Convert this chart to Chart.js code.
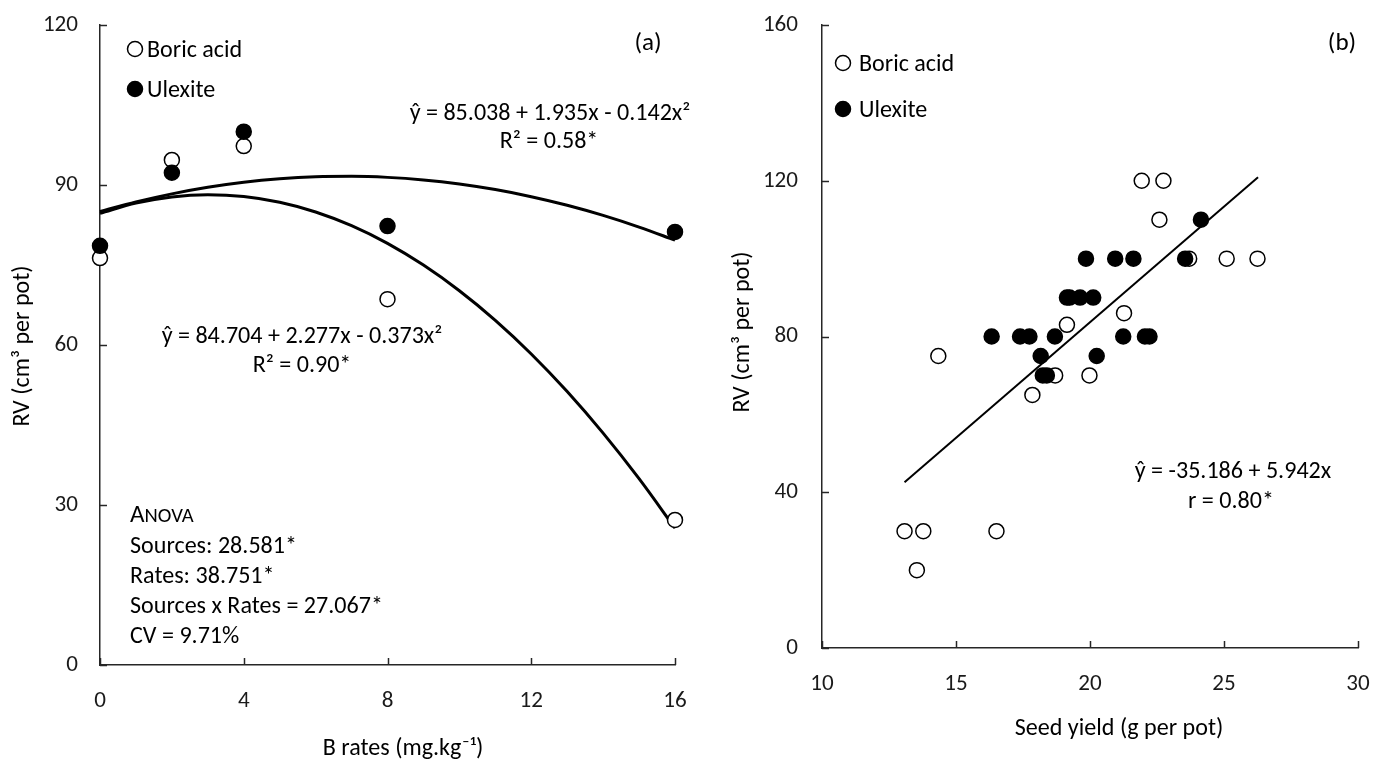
<!DOCTYPE html>
<html>
<head>
<meta charset="utf-8">
<script src="https://cdn.jsdelivr.net/npm/chart.js@4.4.1/dist/chart.umd.min.js"></script>
<style>
  html, body { margin:0; padding:0; background:#fff; width:1373px; height:760px; overflow:hidden; }
  #wa { position:absolute; left:0; top:0; width:700px; height:760px; }
  #wb { position:absolute; left:700px; top:0; width:673px; height:760px; }
  canvas { display:block; }
</style>
</head>
<body>
<div id="wa"><canvas id="ca" width="700" height="760" style="width:700px;height:760px"></canvas></div>
<div id="wb"><canvas id="cb" width="673" height="760" style="width:673px;height:760px"></canvas></div>
<script>
// ---------------- Panel (a): RV vs B rates ----------------
const ratesA      = [0, 2, 4, 8, 16];
const boricRV_A   = [76.3, 94.7, 97.3, 68.6, 27.2];
const ulexRV_A    = [78.6, 92.3, 100.0, 82.3, 81.2];
// fitted curves read along x = 0..16
const curveX_A    = [0, 1, 2, 3, 4, 5, 6, 7, 8, 9, 10, 11, 12, 13, 14, 15, 16];
const ulexCurve_A = [85.04, 86.83, 88.34, 89.57, 90.51, 91.16, 91.54, 91.63, 91.43, 90.95, 90.19, 89.14, 87.81, 86.20, 84.30, 82.11, 79.65];
const boricCurve_A= [84.70, 86.61, 87.77, 88.18, 87.84, 86.76, 84.94, 82.37, 79.05, 74.98, 70.17, 64.62, 58.32, 51.27, 43.47, 34.93, 25.65];
const ticksX_A    = [0, 4, 8, 12, 16];
const ticksY_A    = [0, 30, 60, 90, 120];

// ---------------- Panel (b): RV vs seed yield ----------------
const boricYield_B = [21.93, 22.74, 22.59, 25.10, 26.25, 23.70, 21.27, 19.14, 14.34, 18.70, 19.98, 17.85, 13.08, 13.78, 13.54, 16.51];
const boricRV_B    = [120, 120, 110, 100, 100, 100, 86, 83, 75, 70, 70, 65, 30, 30, 20, 30];
const ulexYield_B  = [24.14, 19.85, 20.94, 21.62, 23.55, 19.14, 19.24, 19.63, 20.12, 16.33, 17.39, 17.74, 18.69, 21.24, 22.05, 22.22, 18.16, 20.25, 18.24, 18.39];
const ulexRV_B     = [110, 100, 100, 100, 100, 90, 90, 90, 90, 80, 80, 80, 80, 80, 80, 80, 75, 75, 70, 70];
const fitX_B       = [13.08, 26.27];
const fitY_B       = [42.54, 120.9];
const ticksX_B     = [10, 15, 20, 25, 30];
const ticksY_B     = [0, 40, 80, 120, 160];

// ---------------- fonts ----------------
function fontExists(name) {
  const c = document.createElement('canvas').getContext('2d');
  const s = 'abcdefghijklmnopqrstuvwxyzMW0123456789';
  let diff = false;
  ['monospace', 'serif'].forEach(fb => {
    c.font = '40px ' + fb; const a = c.measureText(s).width;
    c.font = '40px "' + name + '", ' + fb; const b = c.measureText(s).width;
    if (Math.abs(a - b) > 0.5) diff = true;
  });
  return diff;
}
const FAM = ['Carlito', 'Open Sans', 'Lato', 'Liberation Sans'].find(fontExists) || 'sans-serif';
const FAMQ = '"' + FAM + '", sans-serif';
const mctx = document.createElement('canvas').getContext('2d');
mctx.font = '100px ' + FAMQ;
const EMW = mctx.measureText('Sources x Rates = 27.067*').width / 100;
function cal(px) { return +(px * 10.54 / EMW).toFixed(2); } // size matching Calibri widths

const INK = '#000';
const AXIS = '#262626';

function pts(xs, ys) { return xs.map((x, i) => ({ x: x, y: ys[i] })); }

function inTicks(len) {
  return {
    id: 'inTicks',
    afterDatasetsDraw(chart) {
      const ctx = chart.ctx, xs = chart.scales.x, ys = chart.scales.y;
      ctx.save();
      ctx.strokeStyle = AXIS; ctx.lineWidth = 1.5;
      xs.ticks.forEach(t => {
        const px = Math.round(xs.getPixelForValue(t.value)) + 0.5;
        ctx.beginPath(); ctx.moveTo(px, ys.bottom); ctx.lineTo(px, ys.bottom - len); ctx.stroke();
      });
      ys.ticks.forEach(t => {
        const py = Math.round(ys.getPixelForValue(t.value)) + 0.5;
        ctx.beginPath(); ctx.moveTo(xs.left, py); ctx.lineTo(xs.left + len, py); ctx.stroke();
      });
      ctx.restore();
    }
  };
}

function textPlugin(items) {
  return {
    id: 'txt',
    afterDraw(chart) {
      const ctx = chart.ctx;
      ctx.save();
      ctx.fillStyle = INK;
      items.forEach(it => {
        if (it.circle) {
          ctx.beginPath();
          ctx.arc(it.x, it.y, it.r, 0, Math.PI * 2);
          ctx.fillStyle = it.fill; ctx.fill();
          ctx.lineWidth = 1.5; ctx.strokeStyle = '#000'; ctx.stroke();
          ctx.fillStyle = INK;
          return;
        }
        ctx.save();
        ctx.translate(it.x, it.y);
        if (it.rot) ctx.rotate(-Math.PI / 2);
        ctx.textBaseline = 'alphabetic';
        if (it.parts) {
          let x = 0;
          ctx.textAlign = 'left';
          it.parts.forEach(p => {
            ctx.font = cal(p.size) + 'px ' + FAMQ;
            ctx.fillText(p.t, x, 0);
            x += ctx.measureText(p.t).width;
          });
        } else {
          ctx.font = cal(it.size) + 'px ' + FAMQ;
          ctx.textAlign = it.align || 'left';
          ctx.fillText(it.t, 0, 0);
        }
        ctx.restore();
      });
      ctx.restore();
    }
  };
}

function noOverflow(s) { s.paddingLeft = 0; s.paddingRight = 0; s.paddingTop = 0; s.paddingBottom = 0; }

function axisX(min, max, tickList, height, pad) {
  return {
    type: 'linear', min: min, max: max,
    afterBuildTicks: s => { s.ticks = tickList.map(v => ({ value: v })); },
    afterFit: s => { s.height = height; noOverflow(s); },
    grid: { display: false, drawTicks: false },
    border: { display: true, color: AXIS, width: 1.5 },
    ticks: { color: '#1a1a1a', padding: pad, font: { family: FAMQ, size: cal(23) }, maxRotation: 0 }
  };
}
function axisY(min, max, tickList, width, pad) {
  return {
    type: 'linear', min: min, max: max,
    afterBuildTicks: s => { s.ticks = tickList.map(v => ({ value: v })); },
    afterFit: s => { s.width = width; noOverflow(s); },
    grid: { display: false, drawTicks: false },
    border: { display: true, color: AXIS, width: 1.5 },
    ticks: { color: '#1a1a1a', padding: pad, font: { family: FAMQ, size: cal(23) } }
  };
}

const commonOpts = {
  responsive: false,
  animation: false,
  events: [],
  plugins: { legend: { display: false }, tooltip: { enabled: false } }
};

// ---------------- Chart (a) ----------------
new Chart(document.getElementById('ca'), {
  type: 'scatter',
  data: {
    datasets: [
      { label: 'Ulexite', data: pts(ratesA, ulexRV_A), pointRadius: 7.5, pointBackgroundColor: '#000',
        pointBorderColor: '#000', pointBorderWidth: 1.5, showLine: false, clip: false },
      { label: 'Boric acid', data: pts(ratesA, boricRV_A), pointRadius: 7.5, pointBackgroundColor: '#fff',
        pointBorderColor: '#000', pointBorderWidth: 1.5, showLine: false, clip: false },
      { label: 'Ulexite fit', data: pts(curveX_A, ulexCurve_A), showLine: true, pointRadius: 0,
        borderColor: '#000', borderWidth: 3, cubicInterpolationMode: 'monotone', clip: false },
      { label: 'Boric acid fit', data: pts(curveX_A, boricCurve_A), showLine: true, pointRadius: 0,
        borderColor: '#000', borderWidth: 3, cubicInterpolationMode: 'monotone', clip: false }
    ]
  },
  options: Object.assign({}, commonOpts, {
    layout: { padding: { left: 0, top: 25, right: 25, bottom: 0 } },
    scales: { x: axisX(0, 16, ticksX_A, 95, 22), y: axisY(0, 120, ticksY_A, 100, 22) }
  }),
  plugins: [inTicks(7), textPlugin([
    { t: '(a)', x: 648, y: 50, size: 25, align: 'center' },
    { circle: true, x: 135, y: 49, r: 7.5, fill: '#fff' },
    { t: 'Boric acid', x: 147, y: 57, size: 24 },
    { circle: true, x: 135, y: 89, r: 7.5, fill: '#000' },
    { t: 'Ulexite', x: 147, y: 97, size: 24 },
    { t: 'ŷ = 85.038 + 1.935x - 0.142x²', x: 550, y: 120, size: 24, align: 'center' },
    { t: 'R² = 0.58*', x: 549, y: 148, size: 24, align: 'center' },
    { t: 'ŷ = 84.704 + 2.277x - 0.373x²', x: 302, y: 343, size: 24, align: 'center' },
    { t: 'R² = 0.90*', x: 302, y: 372, size: 24, align: 'center' },
    { parts: [{ t: 'A', size: 25 }, { t: 'NOVA', size: 20.5 }], x: 130, y: 522 },
    { t: 'Sources: 28.581*', x: 130, y: 553, size: 24 },
    { t: 'Rates: 38.751*', x: 130, y: 583, size: 24 },
    { t: 'Sources x Rates = 27.067*', x: 130, y: 613, size: 24 },
    { t: 'CV = 9.71%', x: 130, y: 643, size: 24 },
    { t: 'B rates (mg.kg⁻¹)', x: 403, y: 755, size: 24, align: 'center' },
    { t: 'RV (cm³ per pot)', x: 29, y: 346, size: 24, align: 'center', rot: true }
  ])]
});

// ---------------- Chart (b) ----------------
new Chart(document.getElementById('cb'), {
  type: 'scatter',
  data: {
    datasets: [
      { label: 'Ulexite', data: pts(ulexYield_B, ulexRV_B), pointRadius: 7.5, pointBackgroundColor: '#000',
        pointBorderColor: '#000', pointBorderWidth: 1.5, showLine: false, clip: false },
      { label: 'Boric acid', data: pts(boricYield_B, boricRV_B), pointRadius: 7.5, pointBackgroundColor: '#fff',
        pointBorderColor: '#000', pointBorderWidth: 1.5, showLine: false, clip: false },
      { label: 'Fit', data: pts(fitX_B, fitY_B), showLine: true, pointRadius: 0,
        borderColor: '#000', borderWidth: 2, clip: false }
    ]
  },
  options: Object.assign({}, commonOpts, {
    layout: { padding: { left: 0, top: 25, right: 15, bottom: 0 } },
    scales: { x: axisX(10, 30, ticksX_B, 112, 22), y: axisY(0, 160, ticksY_B, 122, 24) }
  }),
  plugins: [inTicks(7), textPlugin([
    { t: '(b)', x: 642, y: 50, size: 25, align: 'center' },
    { circle: true, x: 143, y: 63, r: 7.5, fill: '#fff' },
    { t: 'Boric acid', x: 159, y: 71, size: 24 },
    { circle: true, x: 143, y: 109, r: 7.5, fill: '#000' },
    { t: 'Ulexite', x: 159, y: 117, size: 24 },
    { t: 'ŷ = -35.186 + 5.942x', x: 533, y: 478, size: 24, align: 'center' },
    { t: 'r = 0.80*', x: 531, y: 508, size: 24, align: 'center' },
    { t: 'Seed yield (g per pot)', x: 419, y: 735, size: 24, align: 'center' },
    { t: 'RV (cm³ per pot)', x: 49, y: 332, size: 24, align: 'center', rot: true }
  ])]
});
</script>
</body>
</html>
